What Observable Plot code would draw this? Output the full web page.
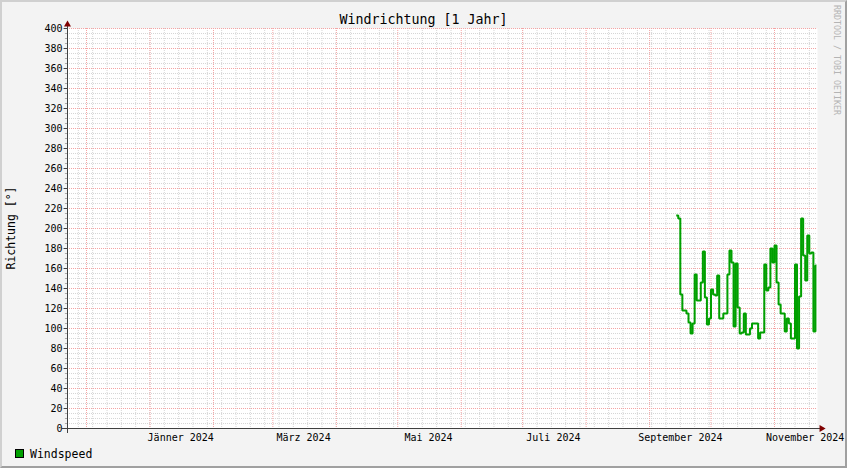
<!DOCTYPE html>
<html>
<head>
<meta charset="utf-8">
<script src="https://cdn.jsdelivr.net/npm/d3@7"></script>
<script src="https://cdn.jsdelivr.net/npm/@observablehq/plot@0.6"></script>
<style>
  html, body { margin: 0; padding: 0; background: #f3f3f3; }
  #wrap { position: relative; width: 847px; height: 468px; background: #f3f3f3; overflow: hidden;
          font-family: "DejaVu Sans Mono", monospace; color: #000; }
  #wrap svg { position: absolute; left: 0; top: 0; }
  .abs { position: absolute; white-space: nowrap; }
  #border { position: absolute; left: 0; top: 0; width: 847px; height: 468px; box-sizing: border-box;
            border-top: 2px solid #d0d0d0; border-left: 2px solid #d0d0d0;
            border-right: 2px solid #a0a0a0; border-bottom: 2px solid #a0a0a0; pointer-events: none; }
</style>
</head>
<body>
<div id="wrap"></div>
<script>
// ---- data ----
const chartTitle = "Windrichtung [1 Jahr]";
const yLabel = "Richtung [°]";
const seriesName = "Windspeed";
const watermark = "RRDTOOL / TOBI OETIKER";
const startDate = "2024-09-14";           // first daily sample
const directionValues = [
  213,210,134,118,118,115,106,95,105,154,
  128,128,146,177,131,104,110,139,134,133,
  153,110,110,115,115,154,178,166,102,165,
  121,95,96,115,94,94,100,105,105,105,
  90,96,96,164,138,141,180,166,183,146,
  124,115,115,97,110,105,90,90,164,80,
  132,210,173,148,193,175,176,97,163
];
const xTickDates = ["2024-01-16","2024-03-16","2024-05-16","2024-07-16","2024-09-16","2024-11-16"];
const xTickLabels = ["Jänner 2024","März 2024","Mai 2024","Juli 2024","September 2024","November 2024"];
const yTicks = [0,20,40,60,80,100,120,140,160,180,200,220,240,260,280,300,320,340,360,380,400];
const xDomain = [new Date("2023-11-21T17:00:00Z"), new Date("2024-11-22T00:00:00Z")];
const yDomain = [0, 400];

// ---- build table ----
const t0 = new Date(startDate + "T00:00:00Z");
const data = directionValues.map((v, i) => ({date: d3.utcDay.offset(t0, i), value: v}));
const last = data[data.length - 1];
const lineData = data.concat([{date: d3.utcHour.offset(last.date, 12), value: last.value}]);
const xTicks = xTickDates.map((d, i) => ({date: new Date(d + "T00:00:00Z"), label: xTickLabels[i]}));

const minorX = d3.utcMonday.range(xDomain[0], xDomain[1]);
const majorX = d3.utcMonth.range(xDomain[0], xDomain[1]);
const minorY = d3.range(yDomain[0], yDomain[1] + 1, 5);

const green = "#00a000";
const axisColor = "#404040";
const arrowColor = "#7f0000";
const minorColor = "#d6d6d6";
const majorColor = "#f4a4a4";

const chart = Plot.plot({
  width: 847,
  height: 468,
  marginLeft: 67,
  marginRight: 30,
  marginTop: 28,
  marginBottom: 40,
  style: {background: "transparent", fontFamily: "DejaVu Sans Mono, monospace", fontSize: "10px", color: "#000"},
  x: {type: "utc", domain: xDomain, axis: null},
  y: {domain: yDomain, axis: null},
  marks: [
    Plot.frame({fill: "white", stroke: null}),
    Plot.ruleY(minorY, {stroke: minorColor, strokeDasharray: "1,1", strokeWidth: 1}),
    Plot.ruleX(minorX, {stroke: minorColor, strokeDasharray: "1,1", strokeWidth: 1}),
    Plot.ruleY(yTicks, {stroke: majorColor, strokeDasharray: "1,1", strokeWidth: 1}),
    Plot.ruleX(majorX, {stroke: majorColor, strokeDasharray: "1,1", strokeWidth: 1}),
    Plot.line(lineData, {x: "date", y: "value", curve: "step-after", stroke: green, strokeWidth: 2,
      strokeLinejoin: "miter", strokeLinecap: "butt"}),
    // y ticks
    Plot.ruleY(minorY, {x1: d3.utcHour.offset(xDomain[0], -24), x2: xDomain[0], stroke: "#aaa"}),
    Plot.ruleY(yTicks, {x1: d3.utcHour.offset(xDomain[0], -40), x2: xDomain[0], stroke: axisColor}),
    Plot.text(yTicks, {x: () => xDomain[0], y: d => d, text: d => String(d), textAnchor: "end", dx: -5, fontSize: 10, fill: "#000"}),
    // axis lines
    Plot.ruleY([0], {x1: d3.utcHour.offset(xDomain[0], -60), x2: d3.utcHour.offset(xDomain[1], 36), stroke: axisColor}),
    Plot.ruleX([xDomain[0]], {y1: -5, y2: 403, stroke: axisColor}),
    Plot.dot([0], {x: () => d3.utcHour.offset(xDomain[1], 48), y: () => 0, symbol: "triangle", r: 2.6, fill: arrowColor, stroke: null, rotate: 90}),
    Plot.dot([0], {x: () => xDomain[0], y: () => 404, symbol: "triangle", r: 2.6, fill: arrowColor, stroke: null}),
    // x labels
    Plot.text(xTicks, {x: "date", y: () => 0, text: "label", dy: 9.5, fontSize: 10, fill: "#000"})
  ]
});

const wrap = document.getElementById("wrap");
wrap.appendChild(chart);

function addText(txt, css) {
  const el = document.createElement("div");
  el.className = "abs";
  el.textContent = txt;
  Object.assign(el.style, css);
  wrap.appendChild(el);
  return el;
}
// title
addText(chartTitle, {left: "0px", width: "847px", textAlign: "center", top: "11px", fontSize: "13.3px", lineHeight: "18px"});
// y label (rotated)
addText(yLabel, {left: "11px", top: "228px", fontSize: "11.5px", lineHeight: "14px",
  transform: "translate(-50%, -50%) rotate(-90deg)"});
// watermark
addText(watermark, {left: "832px", top: "5px", fontSize: "8.3px", lineHeight: "10px", color: "#b4b4b4",
  writingMode: "vertical-rl"});
// legend
const sw = document.createElement("div");
Object.assign(sw.style, {position: "absolute", left: "15px", top: "449px", width: "7px", height: "7px",
  background: green, border: "1px solid #000"});
wrap.appendChild(sw);
addText(seriesName, {left: "30px", top: "447px", fontSize: "11.5px", lineHeight: "14px"});

const border = document.createElement("div");
border.id = "border";
wrap.appendChild(border);
</script>
</body>
</html>
